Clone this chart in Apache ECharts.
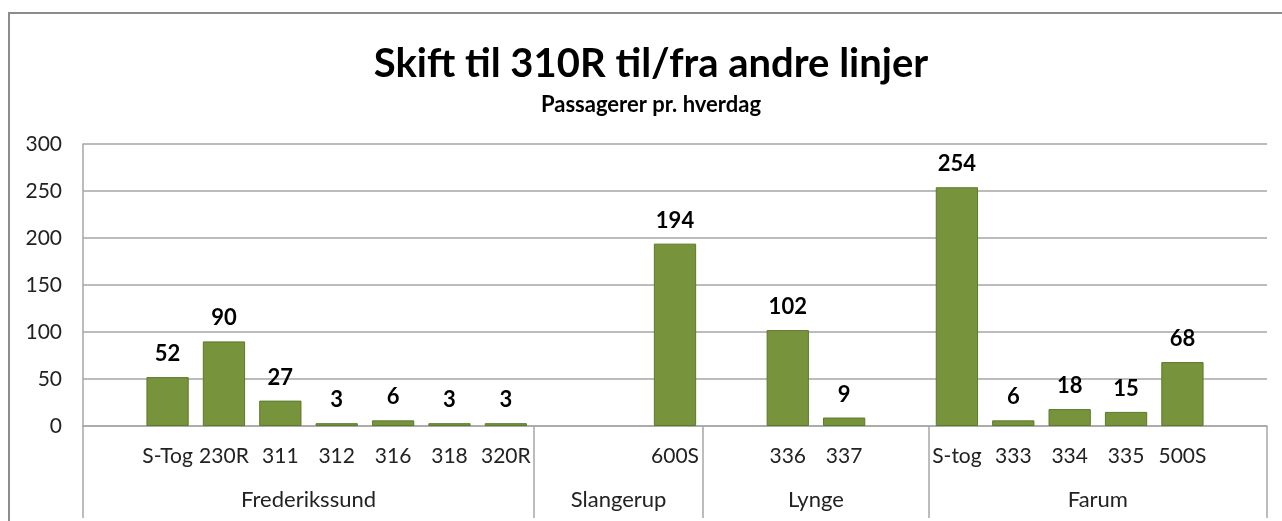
<!DOCTYPE html>
<html>
<head>
<meta charset="utf-8">
<script src="https://cdn.jsdelivr.net/npm/echarts@6/dist/echarts.min.js"></script>
<style>
html,body{margin:0;padding:0;background:#fff;}
#chart{width:1282px;height:521px;}
</style>
</head>
<body>
<div id="chart"></div>
<script>
// ---- data ----
const categories = ['', 'S-Tog', '230R', '311', '312', '316', '318', '320R',
                    '', '', '600S',
                    '', '336', '337', '',
                    'S-tog', '333', '334', '335', '500S', ''];
const values = [null, 52, 90, 27, 3, 6, 3, 3,
                null, null, 194,
                null, 102, 9, null,
                254, 6, 18, 15, 68, null];
const groupNames = ['Frederikssund', 'Slangerup', 'Lynge', 'Farum'];
const groupSizes = [8, 3, 4, 6];
const yTicks = [0, 50, 100, 150, 200, 250, 300];
const titleText = 'Skift til 310R til/fra andre linjer';
const subtitleText = 'Passagerer pr. hverdag';

// derived group boundaries / centers (in category units)
const boundaries = [0];
groupSizes.forEach(s => boundaries.push(boundaries[boundaries.length - 1] + s));
const centers = groupSizes.map((s, i) => boundaries[i] + s / 2);

const FONT = 'Lato, "Open Sans", sans-serif';
const GRAY = '#a6a6a6';

const chart = echarts.init(document.getElementById('chart'), null, {renderer: 'canvas'});
chart.setOption({
  animation: false,
  backgroundColor: '#fff',
  title: [{
    text: titleText,
    left: 651,
    textAlign: 'center',
    top: 44,
    padding: 0,
    textStyle: {fontFamily: FONT, fontWeight: 'bold', fontSize: 40, color: '#000'}
  }, {
    text: subtitleText,
    left: 651,
    textAlign: 'center',
    top: 94,
    padding: 0,
    textStyle: {fontFamily: FONT, fontWeight: 'bold', fontSize: 22, color: '#000'}
  }],
  graphic: [{
    type: 'rect',
    shape: {x: 9, y: 13, width: 1400, height: 700},
    style: {fill: 'none', stroke: '#8c8c8c', lineWidth: 2},
    silent: true
  }],
  grid: {left: 83, right: 15, top: 144, bottom: 95, containLabel: false},
  xAxis: [{
    type: 'category',
    data: categories,
    axisLine: {show: true, lineStyle: {color: GRAY, width: 1.5}},
    axisTick: {show: false},
    axisLabel: {interval: 0, margin: 20, fontFamily: FONT, fontSize: 21, color: '#222'},
    splitLine: {show: false}
  }, {
    type: 'value',
    position: 'bottom',
    min: 0,
    max: categories.length,
    axisLine: {show: false},
    splitLine: {show: false},
    axisTick: {
      show: true,
      customValues: boundaries,
      length: 92,
      lineStyle: {color: GRAY, width: 1.5}
    },
    axisLabel: {
      show: true,
      customValues: centers,
      margin: 63,
      fontFamily: FONT, fontSize: 22, color: '#222',
      formatter: v => {
        const i = centers.findIndex(c => Math.abs(c - v) < 1e-6);
        return i >= 0 ? groupNames[i] : '';
      }
    }
  }],
  yAxis: {
    type: 'value',
    min: 0,
    max: 300,
    interval: 50,
    axisLine: {show: true, lineStyle: {color: GRAY, width: 1.5}},
    axisTick: {show: false},
    axisLabel: {
      margin: 21, fontFamily: FONT, fontSize: 21, color: '#222',
      formatter: v => yTicks.includes(v) ? String(v) : ''
    },
    splitLine: {show: true, lineStyle: {color: GRAY, width: 1.5}}
  },
  series: [{
    type: 'bar',
    xAxisIndex: 0,
    data: values,
    barCategoryGap: '25%',
    itemStyle: {color: '#77933c', borderColor: '#5b7a2b', borderWidth: 1},
    label: {
      show: true,
      position: 'top',
      distance: 12,
      fontFamily: FONT,
      fontWeight: 'bold',
      fontSize: 22,
      color: '#000'
    }
  }]
});
</script>
</body>
</html>
